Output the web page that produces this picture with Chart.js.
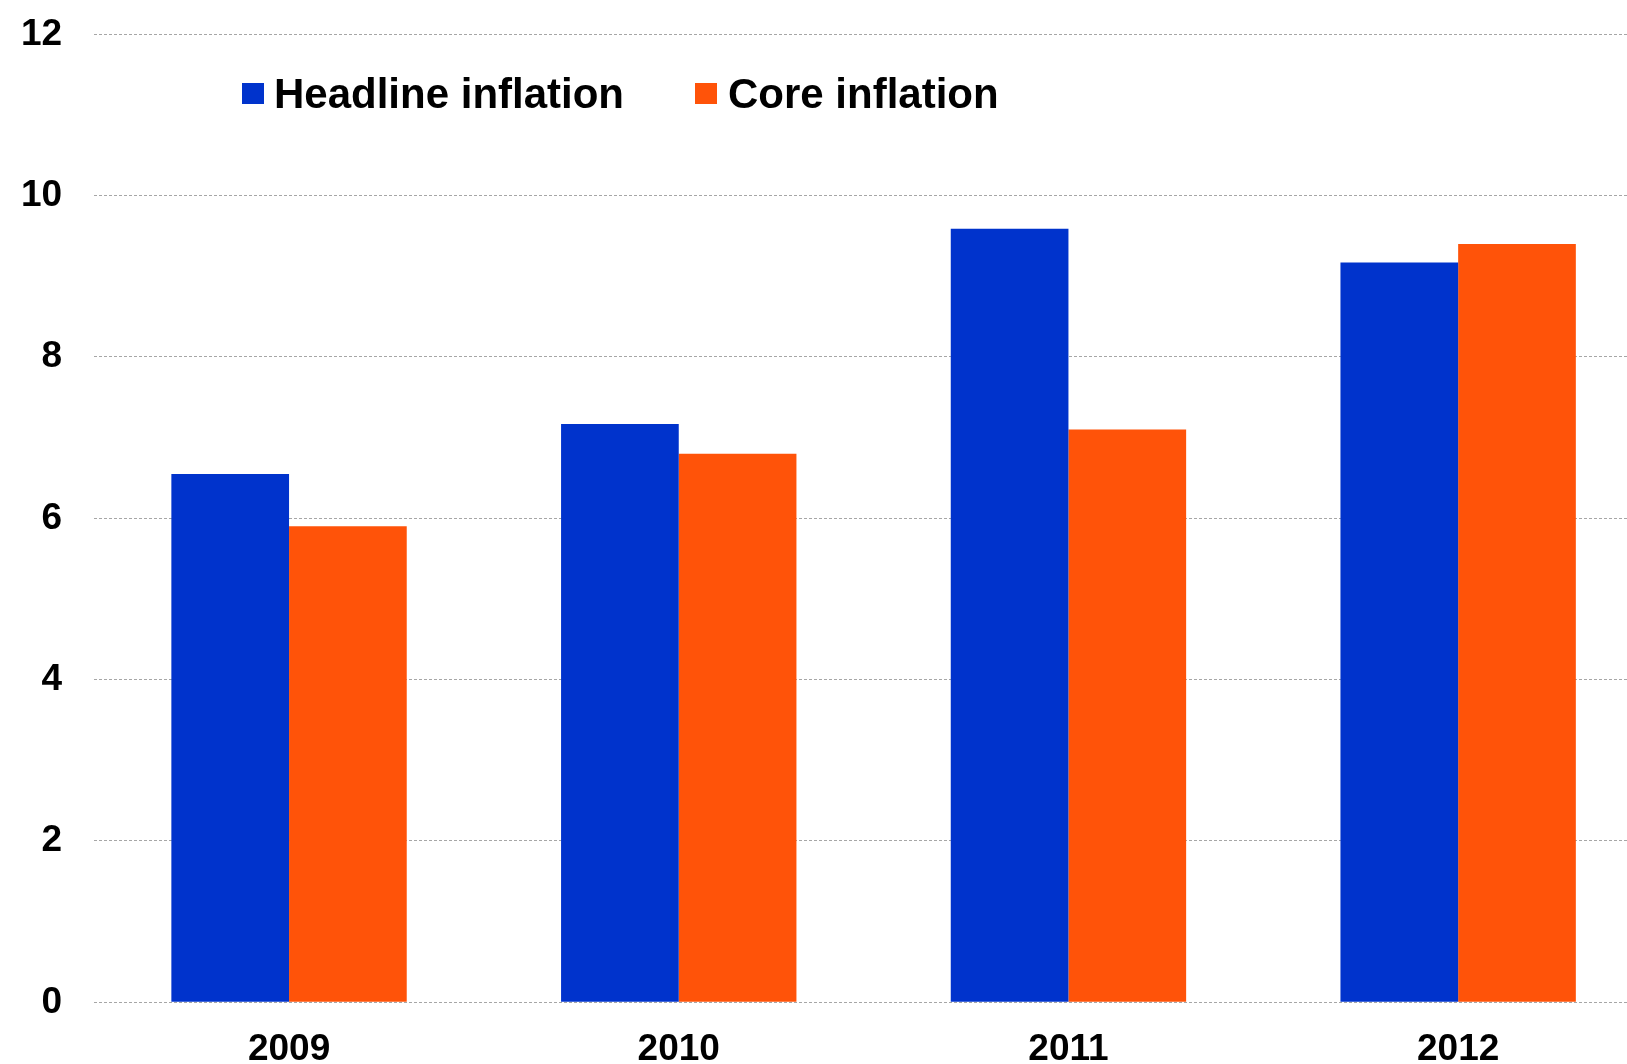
<!DOCTYPE html>
<html>
<head>
<meta charset="utf-8">
<script src="https://cdn.jsdelivr.net/npm/chart.js@4/dist/chart.umd.min.js"></script>
<style>
  html, body { margin: 0; padding: 0; background: #fff; overflow: hidden; }
  #wrap { position: relative; width: 1627px; height: 1064px; overflow: hidden; }
  #stage { position: absolute; left: 0; top: 0; width: 1653px; height: 1064px; }
  .key { position: absolute; font-family: "Liberation Sans", Arial, sans-serif; font-weight: bold;
         font-size: 42px; line-height: 42px; color: #000; white-space: nowrap; }
  .swatch { position: absolute; width: 22px; height: 21px; }
</style>
</head>
<body>
<div id="wrap">
  <div id="stage"><canvas id="chart" width="1653" height="1064"></canvas></div>
  <div class="swatch" style="left:242px; top:83px; background:#0033cc;"></div>
  <div class="key" style="left:274px; top:73px;">Headline inflation</div>
  <div class="swatch" style="left:695px; top:83px; background:#ff5309;"></div>
  <div class="key" style="left:728px; top:73px;">Core inflation</div>
</div>
<script>
// Annual inflation, per cent
const years = ['2009', '2010', '2011', '2012'];
const headline = [6.55, 7.17, 9.59, 9.17];
const core = [5.9, 6.8, 7.1, 9.4];
const yTicks = [0, 2, 4, 6, 8, 10, 12];

const labelFont = { family: '"Liberation Sans", Arial, sans-serif', weight: 'bold', size: 37 };

const chart = new Chart(document.getElementById('chart'), {
  type: 'bar',
  data: {
    labels: years,
    datasets: [
      { label: 'Headline inflation', data: headline, backgroundColor: '#0033cc', borderWidth: 0 },
      { label: 'Core inflation', data: core, backgroundColor: '#ff5309', borderWidth: 0 }
    ]
  },
  options: {
    responsive: false,
    animation: false,
    layout: { padding: { top: 34.3, right: 0, bottom: 0, left: 0 } },
    datasets: { bar: { categoryPercentage: 0.604, barPercentage: 1.0 } },
    plugins: { legend: { display: false }, tooltip: { enabled: false } },
    scales: {
      x: {
        grid: { display: false },
        border: { display: false },
        ticks: { color: '#000', font: labelFont, padding: 17, maxRotation: 0 },
        afterFit(scale) { scale.height = 61.7; }
      },
      y: {
        min: 0,
        max: 12,
        afterBuildTicks(scale) { scale.ticks = yTicks.map(v => ({ value: v })); },
        grid: { color: '#a6a6a6', lineWidth: 1, drawTicks: false },
        border: { display: false, dash: [3, 2] },
        ticks: { color: '#000', font: labelFont, padding: 32 },
        afterFit(scale) {
          scale.width = 94.2;
          // the top/bottom label overhang is already covered by the layout padding
          scale.paddingTop = 0;
          scale.paddingBottom = 0;
        }
      }
    }
  }
});
</script>
</body>
</html>
